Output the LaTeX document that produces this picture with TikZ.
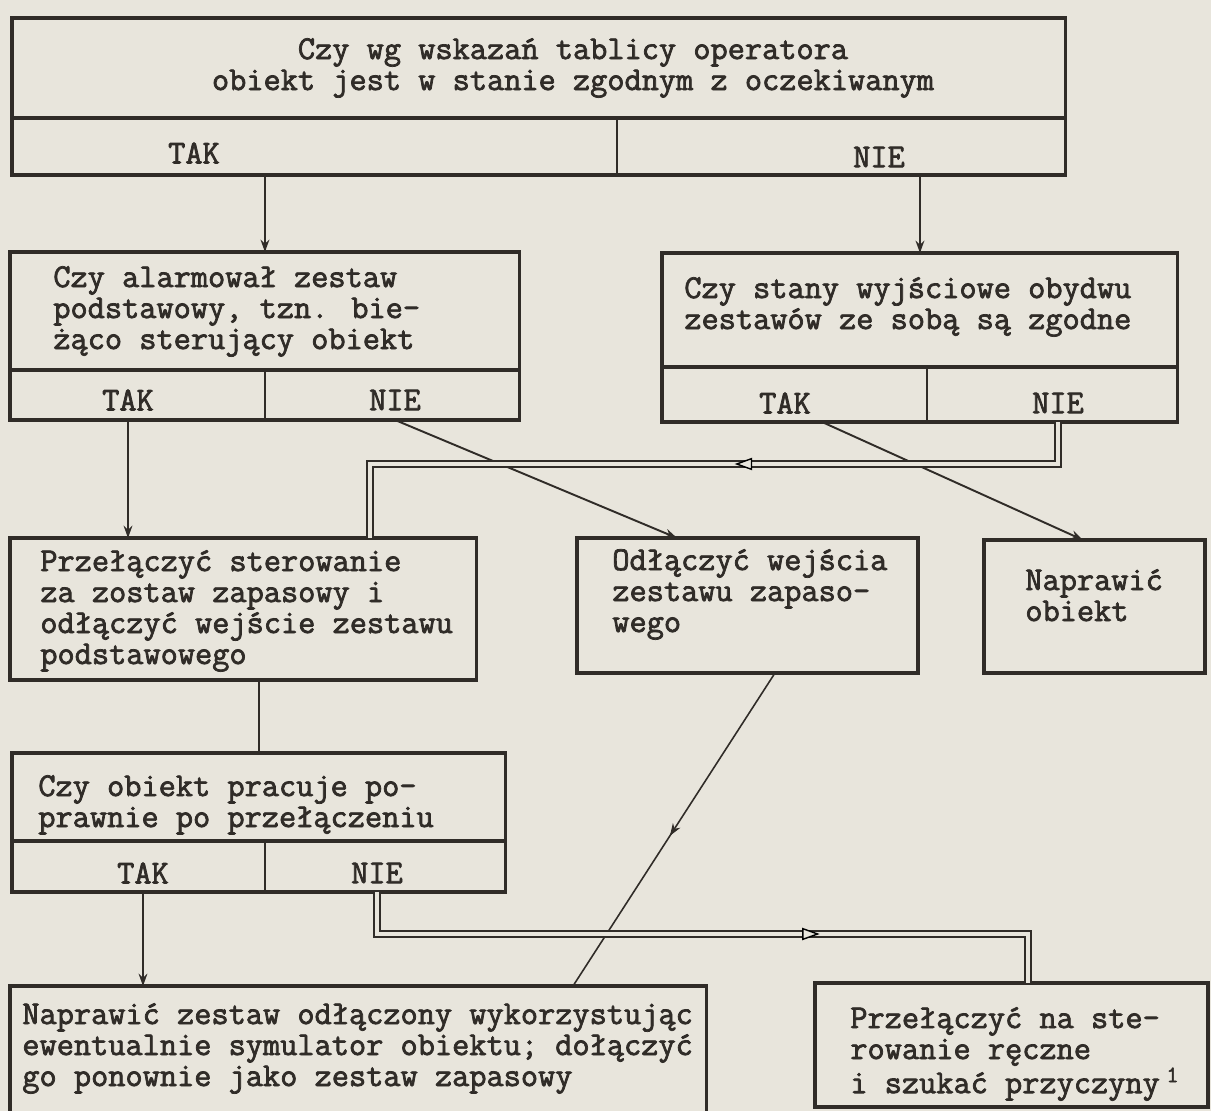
\documentclass[tikz,border=0pt]{standalone}
\usepackage{fontspec}
\newfontfamily\typefont[FakeBold=2.2]{Latin Modern Mono}
\usetikzlibrary{positioning,calc,arrows.meta,decorations.markings}
\definecolor{paper}{RGB}{232,229,220}
\definecolor{ink}{RGB}{48,44,40}

\begin{document}
\begin{tikzpicture}[x=0.02cm, y=-0.02cm, >={Stealth[length=7pt,width=5pt]},
    frame/.style={draw=ink, line width=1.8pt, rectangle, outer sep=0pt, inner sep=0pt, anchor=north west},
    divider/.style={draw=ink, line width=1.2pt},
    txt/.style={anchor=north west, inner sep=0pt, align=left, text=ink,
        font=\typefont\fontsize{19}{17.64}\selectfont},
    ans/.style={inner sep=0pt, text=ink, font=\typefont\fontsize{19}{17.64}\selectfont},
    link/.style={draw=ink, line width=1.1pt, ->},
    thin link/.style={draw=ink, line width=0.9pt},
    dbl/.style={draw=ink, line width=0.8pt, double=paper, double distance=2.6pt},
    open tip/.style={color=ink, decoration={markings,
        mark=at position #1 with {\arrow{Triangle[length=10pt,width=7pt,fill=paper,line width=0.8pt]}}},
        decorate},
    mid tip/.style={postaction={decorate}, decoration={markings,
        mark=at position #1 with {\arrow{>}}}}]

    \useasboundingbox[fill=paper] (0,0) rectangle (1211,1111);

    % first question
    \node[frame, minimum width=21.08cm, minimum height=2cm] (q1) at (12,18) {};
    \node[frame, minimum width=21.08cm, minimum height=1.14cm, below=0pt of q1] (a1) {};
    \draw[divider] (a1.north west) ++(605,0) -- ++(0,57);
    \node[txt, anchor=north, align=center] (q1t) at (573,37)
        {\strut Czy wg wskazań tablicy operatora\\obiekt jest w stanie zgodnym z oczekiwanym};
    \node[ans] (t1) at (194,153) {TAK};
    \node[ans] (n1) at (879,157) {NIE};

    % alarm of the main set
    \node[frame, minimum width=10.2cm, minimum height=2.36cm] (q2) at (10,252) {};
    \node[frame, minimum width=10.2cm, minimum height=1cm, below=0pt of q2] (a2) {};
    \draw[divider] (a2.north) -- (a2.south);
    \node[txt] (q2t) at (53,265)
        {\strut Czy alarmował zestaw\\podstawowy, tzn. bie-\\żąco sterujący obiekt};
    \node[ans] (t2) at (128,400) {TAK};
    \node[ans] (n2) at (395,400) {NIE};

    % outputs of both sets
    \node[frame, minimum width=10.32cm, minimum height=2.28cm] (q3) at (662,253) {};
    \node[frame, minimum width=10.32cm, minimum height=1.1cm, below=0pt of q3] (a3) {};
    \draw[divider] (a3.north west) ++(265,0) -- ++(0,55);
    \node[txt] (q3t) at (684,276)
        {\strut Czy stany wyjściowe obydwu\\zestawów ze sobą są zgodne};
    \node[ans] (t3) at (785,403) {TAK};
    \node[ans] (n3) at (1058,403) {NIE};

    % actions
    \node[frame, minimum width=9.34cm, minimum height=2.84cm] (p4) at (10,538) {};
    \node[txt] (p4t) at (40,549)
        {\strut Przełączyć sterowanie\\za zostaw zapasowy i\\odłączyć wejście zestawu\\podstawowego};
    \node[frame, minimum width=6.82cm, minimum height=2.7cm] (p5) at (577,538) {};
    \node[txt] (p5t) at (612,548) {\strut Odłączyć wejścia\\zestawu zapaso-\\wego};
    \node[frame, minimum width=4.42cm, minimum height=2.66cm] (p6) at (984,540) {};
    \node[txt] (p6t) at (1025,568) {\strut Naprawić\\obiekt};

    % after switching
    \node[frame, minimum width=9.88cm, minimum height=1.76cm] (q7) at (12,753) {};
    \node[frame, minimum width=9.88cm, minimum height=1.02cm, below=0pt of q7] (a7) {};
    \draw[divider] (a7.north west) ++(253,0) -- ++(0,51);
    \node[txt] (q7t) at (38,774) {\strut Czy obiekt pracuje po-\\prawnie po przełączeniu};
    \node[ans] (t7) at (143,873) {TAK};
    \node[ans] (n7) at (377,873) {NIE};

    \node[frame, minimum width=13.94cm, minimum height=2.8cm] (p8) at (10,986) {};
    \node[txt] (p8t) at (22,1002)
        {\strut Naprawić zestaw odłączony wykorzystując\\ewentualnie symulator obiektu; dołączyć\\go ponownie jako zestaw zapasowy};
    \node[frame, minimum width=7.86cm, minimum height=2.48cm] (p9) at (815,983) {};
    \node[txt] (p9t) at (850,1006)
        {\strut Przełączyć na ste-\\rowanie ręczne\\i szukać przyczyny\hspace{0.2em}\textsuperscript{1}};

    % connectors
    \draw[link] (q2.north |- a1.south) -- (q2.north);
    \draw[link] (q3.north |- a1.south) -- (q3.north);
    \draw[link] (t2 |- a2.south) -- (t2 |- p4.north);
    \draw[link] (n2 |- a2.south) -- ($(p5.north west)+(100,0)$);
    \draw[link] ($(t3 |- a3.south)+(37,0)$) -- ($(p6.north west)+(99,0)$);

    \coordinate (j1) at (370,464);
    \draw[dbl] (n3 |- a3.south) |- (j1) -- (j1 |- p4.north);
    \path[open tip=0.47] (n3 |- j1) -- (j1);

    \draw[link, -] (p4.south -| q7.north) -- (q7.north);
    \draw[link] (t7 |- a7.south) -- (t7 |- p8.north);
    \draw[thin link, mid tip=0.52] ($(p5.south west)+(198,0)$) -- ($(p8.north west)+(563,0)$);

    \coordinate (j2) at (1028,934);
    \draw[dbl] (n7 |- a7.south) |- (j2) -- (j2 |- p9.north);
    \path[open tip=0.68] (n7 |- j2) -- (j2);
\end{tikzpicture}
\end{document}
